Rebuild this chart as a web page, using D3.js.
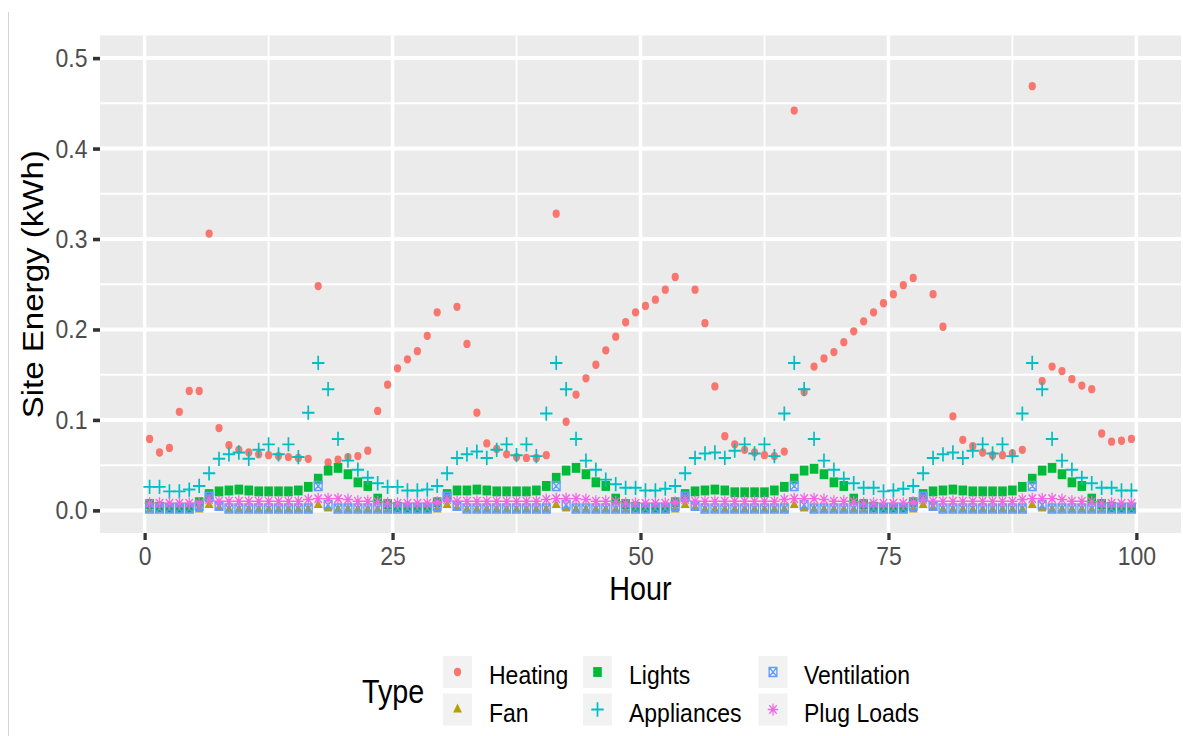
<!DOCTYPE html>
<html>
<head>
<meta charset="utf-8">
<script src="https://cdn.jsdelivr.net/npm/d3@7"></script>
<style>
  html, body { margin: 0; padding: 0; background: #ffffff; }
  svg { display: block; font-family: "Liberation Sans", Arial, sans-serif; }
</style>
</head>
<body>
<svg id="chart" width="1183" height="736"></svg>
<script>
// Hourly site energy by end use (kWh)
const hours = [
  0.5, 1.5, 2.5, 3.5, 4.5, 5.5, 6.5, 7.5, 8.5, 9.5, 10.5, 11.5, 12.5, 13.5, 14.5, 15.5, 16.5, 17.5, 18.5, 19.5,
  20.5, 21.5, 22.5, 23.5, 24.5, 25.5, 26.5, 27.5, 28.5, 29.5, 30.5, 31.5, 32.5, 33.5, 34.5, 35.5, 36.5, 37.5, 38.5, 39.5,
  40.5, 41.5, 42.5, 43.5, 44.5, 45.5, 46.5, 47.5, 48.5, 49.5, 50.5, 51.5, 52.5, 53.5, 54.5, 55.5, 56.5, 57.5, 58.5, 59.5,
  60.5, 61.5, 62.5, 63.5, 64.5, 65.5, 66.5, 67.5, 68.5, 69.5, 70.5, 71.5, 72.5, 73.5, 74.5, 75.5, 76.5, 77.5, 78.5, 79.5,
  80.5, 81.5, 82.5, 83.5, 84.5, 85.5, 86.5, 87.5, 88.5, 89.5, 90.5, 91.5, 92.5, 93.5, 94.5, 95.5, 96.5, 97.5, 98.5, 99.5
];

const heating = [
  0.079, 0.064, 0.069, 0.109, 0.132, 0.132, 0.306, 0.091, 0.072, 0.067, 0.064, 0.062, 0.061, 0.060, 0.059, 0.058, 0.057, 0.248, 0.053, 0.056, 0.059, 0.060, 0.066, 0.110,
  0.139, 0.157, 0.167, 0.176, 0.193, 0.219, null, 0.225, 0.184, 0.108, 0.074, 0.068, 0.062, 0.059, 0.058, 0.058, 0.061, 0.328, 0.098, 0.128, 0.146, 0.161, 0.177, 0.192,
  0.208, 0.219, 0.226, 0.233, 0.244, 0.258, null, 0.244, 0.207, 0.137, 0.082, 0.073, 0.067, 0.064, 0.061, 0.060, 0.065, 0.442, 0.131, 0.159, 0.168, 0.175, 0.186, 0.198,
  0.209, 0.219, 0.229, 0.239, 0.249, 0.257, null, 0.239, 0.203, 0.104, 0.078, 0.071, 0.064, 0.061, 0.061, 0.063, 0.067, 0.469, 0.143, 0.159, 0.154, 0.145, 0.138, 0.134,
  0.085, 0.076, 0.077, 0.079
];

const fan = [
  0.001, 0.001, 0.001, 0.001, 0.001, 0.001, 0.006, 0.003, 0.001, 0.001, 0.001, 0.001, 0.001, 0.001, 0.001, 0.001, 0.001, 0.006, 0.002, 0.001, 0.001, 0.001, 0.001, 0.001,
  0.001, 0.001, 0.001, 0.001, 0.001, 0.001, 0.006, 0.003, 0.001, 0.001, 0.001, 0.001, 0.001, 0.001, 0.001, 0.001, 0.001, 0.006, 0.002, 0.001, 0.001, 0.001, 0.001, 0.001,
  0.001, 0.001, 0.001, 0.001, 0.001, 0.001, 0.006, 0.003, 0.001, 0.001, 0.001, 0.001, 0.001, 0.001, 0.001, 0.001, 0.001, 0.006, 0.002, 0.001, 0.001, 0.001, 0.001, 0.001,
  0.001, 0.001, 0.001, 0.001, 0.001, 0.001, 0.006, 0.003, 0.001, 0.001, 0.001, 0.001, 0.001, 0.001, 0.001, 0.001, 0.001, 0.006, 0.002, 0.001, 0.001, 0.001, 0.001, 0.001,
  0.001, 0.001, 0.001, 0.001
];

const lights = [
  0.007, 0.004, 0.003, 0.003, 0.003, 0.009, 0.018, 0.021, 0.022, 0.023, 0.022, 0.021, 0.021, 0.021, 0.021, 0.022, 0.026, 0.035, 0.044, 0.047, 0.040, 0.031, 0.027, 0.013,
  0.007, 0.004, 0.003, 0.003, 0.003, 0.009, 0.018, 0.022, 0.022, 0.023, 0.022, 0.021, 0.021, 0.021, 0.021, 0.022, 0.027, 0.036, 0.044, 0.047, 0.040, 0.031, 0.027, 0.013,
  0.007, 0.004, 0.003, 0.003, 0.003, 0.009, 0.018, 0.021, 0.022, 0.023, 0.022, 0.020, 0.020, 0.020, 0.020, 0.022, 0.026, 0.035, 0.044, 0.046, 0.040, 0.031, 0.027, 0.013,
  0.007, 0.004, 0.003, 0.003, 0.003, 0.009, 0.018, 0.021, 0.022, 0.023, 0.022, 0.021, 0.021, 0.021, 0.021, 0.022, 0.026, 0.035, 0.044, 0.047, 0.040, 0.031, 0.027, 0.013,
  0.007, 0.004, 0.003, 0.003
];

const appliances = [
  0.026, 0.026, 0.021, 0.021, 0.023, 0.027, 0.041, 0.057, 0.062, 0.064, 0.057, 0.067, 0.073, 0.062, 0.073, 0.059, 0.108, 0.163, 0.134, 0.079, 0.055, 0.045, 0.036, 0.030,
  0.026, 0.026, 0.022, 0.022, 0.023, 0.027, 0.041, 0.058, 0.062, 0.065, 0.058, 0.067, 0.073, 0.061, 0.073, 0.060, 0.107, 0.163, 0.134, 0.079, 0.055, 0.045, 0.034, 0.029,
  0.025, 0.025, 0.022, 0.022, 0.024, 0.027, 0.041, 0.058, 0.063, 0.064, 0.058, 0.066, 0.073, 0.063, 0.073, 0.060, 0.107, 0.163, 0.134, 0.079, 0.055, 0.045, 0.035, 0.030,
  0.025, 0.025, 0.021, 0.022, 0.024, 0.027, 0.041, 0.058, 0.062, 0.064, 0.058, 0.066, 0.073, 0.063, 0.073, 0.060, 0.107, 0.163, 0.134, 0.079, 0.055, 0.045, 0.036, 0.030,
  0.025, 0.025, 0.022, 0.022
];

const ventilation = [
  0.002, 0.002, 0.002, 0.002, 0.002, 0.005, 0.015, 0.005, 0.002, 0.002, 0.002, 0.002, 0.002, 0.002, 0.002, 0.002, 0.002, 0.027, 0.006, 0.002, 0.002, 0.002, 0.002, 0.002,
  0.002, 0.002, 0.002, 0.002, 0.002, 0.005, 0.015, 0.005, 0.002, 0.002, 0.002, 0.002, 0.002, 0.002, 0.002, 0.002, 0.002, 0.027, 0.006, 0.002, 0.002, 0.002, 0.002, 0.002,
  0.002, 0.002, 0.002, 0.002, 0.002, 0.005, 0.015, 0.005, 0.002, 0.002, 0.002, 0.002, 0.002, 0.002, 0.002, 0.002, 0.002, 0.027, 0.006, 0.002, 0.002, 0.002, 0.002, 0.002,
  0.002, 0.002, 0.002, 0.002, 0.002, 0.005, 0.015, 0.005, 0.002, 0.002, 0.002, 0.002, 0.002, 0.002, 0.002, 0.002, 0.002, 0.027, 0.006, 0.002, 0.002, 0.002, 0.002, 0.002,
  0.002, 0.002, 0.002, 0.002
];

const plugLoads = [
  0.008, 0.008, 0.008, 0.008, 0.008, 0.008, 0.012, 0.010, 0.010, 0.010, 0.010, 0.010, 0.010, 0.010, 0.010, 0.010, 0.012, 0.013, 0.013, 0.013, 0.012, 0.010, 0.010, 0.0095,
  0.008, 0.008, 0.008, 0.008, 0.008, 0.009, 0.012, 0.010, 0.010, 0.010, 0.010, 0.010, 0.010, 0.010, 0.010, 0.010, 0.012, 0.013, 0.013, 0.013, 0.012, 0.010, 0.010, 0.0095,
  0.008, 0.008, 0.008, 0.008, 0.008, 0.009, 0.012, 0.010, 0.010, 0.010, 0.010, 0.010, 0.010, 0.010, 0.010, 0.010, 0.012, 0.013, 0.013, 0.013, 0.012, 0.010, 0.010, 0.0095,
  0.008, 0.008, 0.008, 0.008, 0.008, 0.009, 0.012, 0.010, 0.010, 0.010, 0.010, 0.010, 0.010, 0.010, 0.010, 0.010, 0.012, 0.013, 0.013, 0.013, 0.012, 0.010, 0.010, 0.0095,
  0.008, 0.008, 0.008, 0.008
];

const typeNames = ["Heating", "Fan", "Lights", "Appliances", "Ventilation", "Plug Loads"];
const typeValues = [heating, fan, lights, appliances, ventilation, plugLoads];

const xTicks = [0, 25, 50, 75, 100];
const xTickLabels = ["0", "25", "50", "75", "100"];
const xMinor = [12.5, 37.5, 62.5, 87.5];
const yTicks = [0, 0.1, 0.2, 0.3, 0.4, 0.5];
const yTickLabels = ["0.0", "0.1", "0.2", "0.3", "0.4", "0.5"];
const yMinor = [0.05, 0.15, 0.25, 0.35, 0.45];

// ---- drawing ----
const SY = 1.15; // vertical aspect of text and glyphs
const svg = d3.select("#chart");
const panel = { left: 100, right: 1181, top: 35.5, bottom: 533 };

const colors = d3.scaleOrdinal()
  .domain(typeNames)
  .range(["#F8766D", "#B79F00", "#00BA38", "#00BFC4", "#619CFF", "#F564E3"]);

const x = d3.scaleLinear().domain([-4.5, 104.5]).range([panel.left, panel.right]);
const y = d3.scaleLinear().domain([-0.025, 0.525]).range([panel.bottom, panel.top]);

// page edge rule on the left
svg.append("line")
  .attr("x1", 8.5).attr("x2", 8.5).attr("y1", 12).attr("y2", 736)
  .attr("stroke", "#d4d4d4").attr("stroke-width", 1);

// panel background
svg.append("rect")
  .attr("x", panel.left).attr("y", panel.top)
  .attr("width", panel.right - panel.left).attr("height", panel.bottom - panel.top)
  .attr("fill", "#EBEBEB");

const grid = svg.append("g");
grid.selectAll(".ymin").data(yMinor).join("line")
  .attr("x1", panel.left).attr("x2", panel.right)
  .attr("y1", d => y(d)).attr("y2", d => y(d))
  .attr("stroke", "#fff").attr("stroke-width", 2);
grid.selectAll(".xmin").data(xMinor).join("line")
  .attr("y1", panel.top).attr("y2", panel.bottom)
  .attr("x1", d => x(d)).attr("x2", d => x(d))
  .attr("stroke", "#fff").attr("stroke-width", 1.8);
grid.selectAll(".ymaj").data(yTicks).join("line")
  .attr("x1", panel.left).attr("x2", panel.right)
  .attr("y1", d => y(d)).attr("y2", d => y(d))
  .attr("stroke", "#fff").attr("stroke-width", 4);
grid.selectAll(".xmaj").data(xTicks).join("line")
  .attr("y1", panel.top).attr("y2", panel.bottom)
  .attr("x1", d => x(d)).attr("x2", d => x(d))
  .attr("stroke", "#fff").attr("stroke-width", 3.5);

// marker glyphs per type
function glyph(name) {
  switch (name) {
    case "Heating":
      return { d: d3.symbol(d3.symbolCircle, Math.PI * 3.6 * 3.6)(), fill: true };
    case "Fan":
      return { d: d3.symbol(d3.symbolTriangle, 34)(), fill: true };
    case "Lights":
      return { d: d3.symbol(d3.symbolSquare, 74)(), fill: true };
    case "Appliances":
      return { d: "M-6.2,0H6.2M0,-6.2V6.2", fill: false, sw: 1.7 };
    case "Ventilation":
      return { d: "M-3.9,-3.9H3.9V3.9H-3.9ZM-3.9,-3.9L3.9,3.9M3.9,-3.9L-3.9,3.9", fill: false, sw: 1.3 };
    case "Plug Loads":
      return { d: "M-5.2,0H5.2M0,-5.2V5.2M-3.7,-3.7L3.7,3.7M3.7,-3.7L-3.7,3.7", fill: false, sw: 1.25 };
  }
}

function styleGlyph(sel, name) {
  const g = glyph(name);
  sel.attr("d", g.d)
    .attr("fill", g.fill ? colors(name) : "none")
    .attr("stroke", g.fill ? "none" : colors(name))
    .attr("stroke-width", g.fill ? null : g.sw)
    .attr("stroke-linecap", "butt");
}

const pointsLayer = svg.append("g");
typeNames.forEach((name, k) => {
  const rows = hours.map((h, i) => ({ h, v: typeValues[k][i] })).filter(r => r.v != null);
  pointsLayer.append("g").selectAll("path").data(rows).join("path")
    .attr("transform", r => `translate(${x(r.h)},${y(r.v)}) scale(1,${SY})`)
    .call(styleGlyph, name);
});

// axes
const xAxis = svg.append("g")
  .attr("transform", `translate(0,${panel.bottom})`)
  .call(d3.axisBottom(x).tickValues(xTicks).tickFormat((d, i) => xTickLabels[i])
    .tickSize(7).tickPadding(4.5).tickSizeOuter(0));
xAxis.attr("font-size", null).attr("font-family", null);
xAxis.select(".domain").remove();
xAxis.selectAll(".tick line").attr("stroke", "#333333").attr("stroke-width", 3.3);
xAxis.selectAll(".tick text")
  .attr("fill", "#4D4D4D").attr("font-size", 23)
  .attr("transform", `scale(1,${SY})`);

const yAxis = svg.append("g")
  .attr("transform", `translate(${panel.left},0)`)
  .call(d3.axisLeft(y).tickValues(yTicks).tickFormat((d, i) => yTickLabels[i])
    .tickSize(7).tickPadding(5.5).tickSizeOuter(0));
yAxis.attr("font-size", null).attr("font-family", null);
yAxis.select(".domain").remove();
yAxis.selectAll(".tick line").attr("stroke", "#333333").attr("stroke-width", 3.6);
yAxis.selectAll(".tick text")
  .attr("fill", "#4D4D4D").attr("font-size", 23)
  .attr("transform", `scale(1,${SY})`);

// axis titles
svg.append("text")
  .attr("transform", `translate(${(panel.left + panel.right) / 2},600) scale(1,${SY})`)
  .attr("text-anchor", "middle").attr("font-size", 28.75).attr("fill", "#000")
  .text("Hour");

svg.append("text")
  .attr("transform", `translate(43,${(panel.top + panel.bottom) / 2}) scale(1,${SY}) rotate(-90)`)
  .attr("text-anchor", "middle").attr("font-size", 28.75).attr("fill", "#000")
  .text("Site Energy (kWh)");

// legend
const legend = svg.append("g");
legend.append("text")
  .attr("transform", `translate(362,703) scale(1,${SY})`)
  .attr("font-size", 28.75).attr("fill", "#000")
  .text("Type");

const keyX = [457.5, 597.5, 773];
const labelX = [489, 629, 804];
const rowY = [672, 709.5];

typeNames.forEach((name, k) => {
  const col = Math.floor(k / 2), row = k % 2;
  const cx = keyX[col], cy = rowY[row];
  legend.append("rect")
    .attr("x", cx - 14.5).attr("y", cy - 16)
    .attr("width", 29).attr("height", 32)
    .attr("fill", "#F2F2F2");
  legend.append("path")
    .attr("transform", `translate(${cx},${cy}) scale(1,${SY})`)
    .call(styleGlyph, name);
  legend.append("text")
    .attr("transform", `translate(${labelX[col]},${cy + 12}) scale(1,${SY})`)
    .attr("font-size", 23).attr("fill", "#000")
    .text(name);
});
</script>
</body>
</html>
